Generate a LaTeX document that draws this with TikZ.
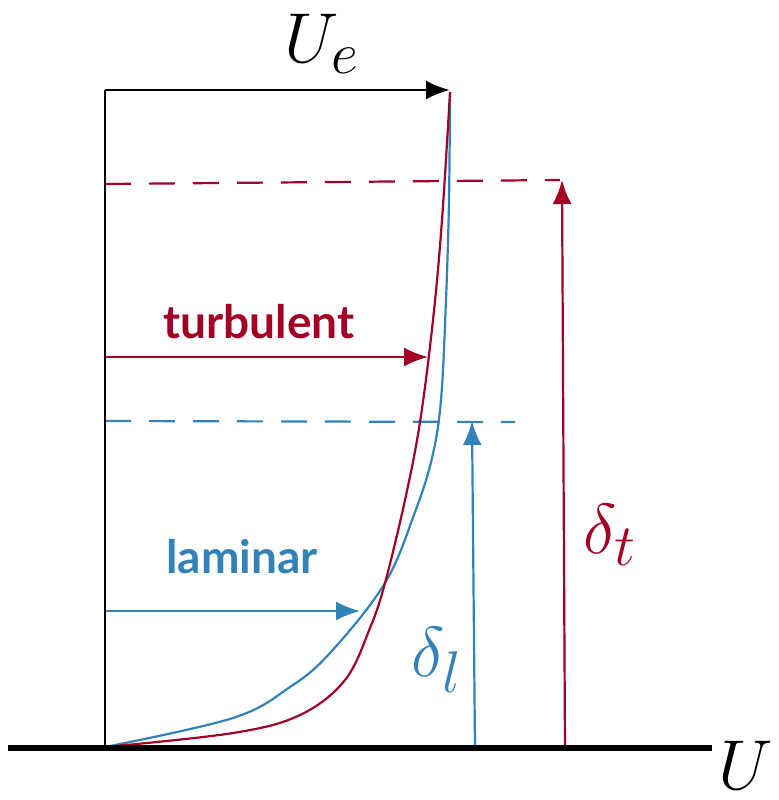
\documentclass[tikz,border=0pt]{standalone}
\usepackage{fontspec}
\newfontfamily\lblfont{Lato}
\usetikzlibrary{arrows.meta}
\definecolor{tred}{RGB}{163,0,38}
\definecolor{lblue}{RGB}{50,130,185}
\tikzset{
  tip/.style={-{Latex[length=12pt,width=9.5pt]}},
  axisline/.style={line width=1.4pt, black},
  wallline/.style={line width=2.6pt, black},
  curve/.style={line width=1.1pt},
  dashline/.style={line width=1.1pt, dash pattern=on 13pt off 9pt},
  mathlbl/.style={font=\Huge, scale=1.42},
  wordlbl/.style={font=\lblfont\bfseries\fontsize{23}{28}\selectfont}
}
\begin{document}
\begin{tikzpicture}[x=0.5pt,y=-0.5pt]
\useasboundingbox (0,0) rectangle (779,800);
% coordinates
\coordinate (O) at (105,747);
\coordinate (Top) at (105,90);
\coordinate (Ue) at (450,90);
\coordinate (W1) at (8,748);
\coordinate (W2) at (712,748);
\coordinate (RD1) at (105,184);
\coordinate (RD2) at (560,180);
\coordinate (BD1) at (105,421);
\coordinate (BD2) at (515,422);
\coordinate (RA1) at (565,748);
\coordinate (RA2) at (562,180);
\coordinate (BA1) at (475,748);
\coordinate (BA2) at (472,421);
\coordinate (TA1) at (105,357);
\coordinate (TA2) at (428,357);
\coordinate (LA1) at (105,611);
\coordinate (LA2) at (360,611);
% dashed lines
\draw[dashline, tred] (RD1) -- (RD2);
\draw[dashline, lblue] (BD1) -- (BD2);
% profiles
\draw[curve, lblue] plot[smooth, tension=0.6] coordinates {(105,747) (233,718) (290,687) (330,653) (385,583) (415,512) (432,458) (441,400) (446,300) (449,200) (450,92)};
\draw[curve, tred] plot[smooth, tension=0.6] coordinates {(105,747) (233,733) (300,715) (345,680) (370,628) (385,583) (405,500) (420,422) (433,320) (442,220) (450,92)};
% arrows
\draw[curve, tred, tip] (TA1) -- (TA2);
\draw[curve, lblue, tip] (LA1) -- (LA2);
\draw[curve, tred, tip] (RA1) -- (RA2);
\draw[curve, lblue, tip] (BA1) -- (BA2);
\draw[axisline] (O) -- (Top);
\draw[axisline, tip] (Top) -- (Ue);
\draw[wallline] (W1) -- (W2);
% labels
\node[mathlbl] (ue) at (322,44) {$U_e$};
\node[mathlbl] (u) at (746,765) {$U$};
\node[mathlbl, text=tred] (dt) at (610,535) {$\delta_t$};
\node[mathlbl, text=lblue] (dl) at (437,660) {$\delta_l$};
\node[wordlbl, text=tred] (turb) at (259,322) {turbulent};
\node[wordlbl, text=lblue] (lam) at (242,557) {laminar};
\end{tikzpicture}
\end{document}
